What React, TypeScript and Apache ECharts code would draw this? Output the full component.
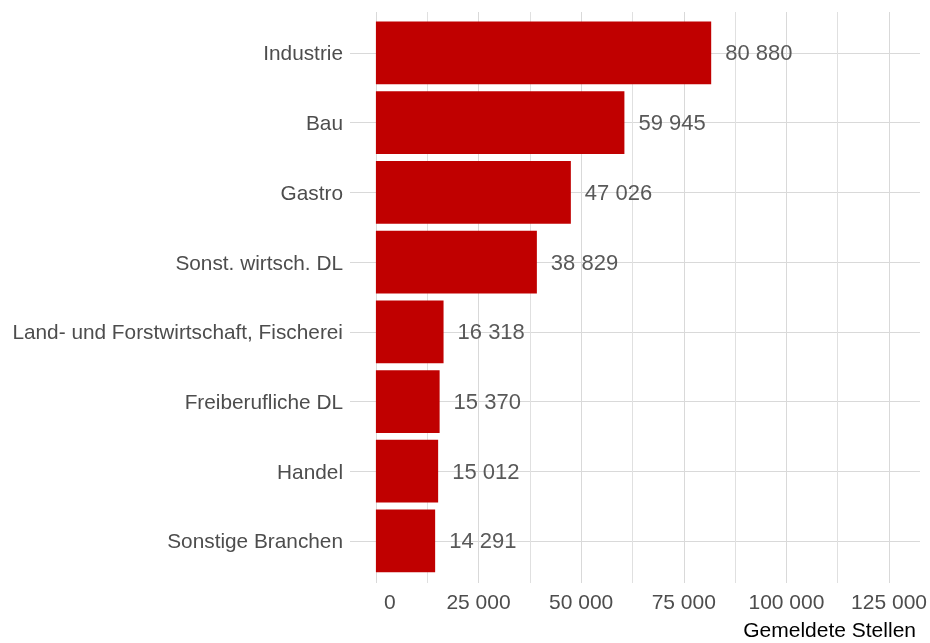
import React, { useEffect, useRef } from "react";
import * as echarts from "echarts";

const categories = [
  "Industrie",
  "Bau",
  "Gastro",
  "Sonst. wirtsch. DL",
  "Land- und Forstwirtschaft, Fischerei",
  "Freiberufliche DL",
  "Handel",
  "Sonstige Branchen",
];
const values = [80880, 59945, 47026, 38829, 16318, 15370, 15012, 14291];
const tickValues = [0, 25000, 50000, 75000, 100000, 125000];
const axisTitle = "Gemeldete Stellen";

const fmt = (v: number) => String(Math.round(v)).replace(/\B(?=(\d{3})+(?!\d))/g, " ");

const FONT = "'Liberation Sans', Arial, sans-serif";

export default function App() {
  const ref = useRef<HTMLDivElement>(null);
  useEffect(() => {
    if (!ref.current) return;
    const chart = echarts.init(ref.current, undefined, { renderer: "svg" });
    const xMin = -6250;
    const xMax = 131250;
    const plotLeft = 350;
    const plotRight = 920;
    const plotW = plotRight - plotLeft;
    const px = (v: number) => plotLeft + ((v - xMin) / (xMax - xMin)) * plotW;
    const g2Left = px(tickValues[0]);
    const g2Right = px(tickValues[tickValues.length - 1]);
    const g1Top = 18.1;
    const g1H = 557.7;
    chart.setOption({
      animation: false,
      grid: [
        { left: plotLeft, top: g1Top, width: plotW, height: g1H, containLabel: false },
        { left: g2Left, top: 12, width: g2Right - g2Left, height: 571, containLabel: false },
      ],
      xAxis: [
        {
          gridIndex: 0,
          type: "value",
          min: xMin,
          max: xMax,
          axisLine: { show: false },
          axisTick: { show: false },
          axisLabel: { show: false },
          splitLine: { show: false },
          name: axisTitle,
          nameLocation: "end",
          nameGap: 0,
          nameTextStyle: {
            fontSize: 21,
            fontFamily: FONT,
            color: "#000000",
            align: "right",
            verticalAlign: "top",
            padding: [43, 4, 0, 0],
          },
        },
        {
          gridIndex: 1,
          type: "value",
          min: 0,
          max: 125000,
          interval: 25000,
          axisLine: { show: false },
          axisTick: { show: false },
          axisLabel: {
            margin: 8,
            fontSize: 21,
            fontFamily: FONT,
            color: "#4D4D4D",
            formatter: (v: number) => (v === 0 ? "{z|0}" : fmt(v)),
            rich: {
              z: { fontSize: 21, fontFamily: FONT, color: "#4D4D4D", padding: [0, 0, 0, 28] },
            },
          },
          splitLine: { show: true, lineStyle: { color: "#D9D9D9", width: 1 } },
          minorTick: { show: false, splitNumber: 2 },
          minorSplitLine: { show: true, lineStyle: { color: "#E0E0E0", width: 1 } },
        },
      ],
      yAxis: [
        {
          gridIndex: 0,
          type: "category",
          data: categories,
          inverse: true,
          axisLine: { show: false },
          axisTick: { show: false },
          axisLabel: {
            margin: 7,
            fontSize: 20.8,
            fontFamily: FONT,
            color: "#4D4D4D",
            padding: [4, 0, 0, 0],
          },
          splitLine: { show: true, alignWithLabel: true, lineStyle: { color: "#D9D9D9", width: 1 } },
        },
        {
          gridIndex: 1,
          type: "value",
          show: false,
          splitLine: { show: false },
        },
      ],
      series: [
        {
          type: "bar",
          xAxisIndex: 0,
          yAxisIndex: 0,
          data: values,
          barWidth: "90%",
          itemStyle: { color: "#C00000" },
          label: {
            show: true,
            position: "right",
            distance: 14,
            fontSize: 22,
            fontFamily: FONT,
            color: "#595959",
            padding: [4, 0, 0, 0],
            formatter: (p: any) => fmt(p.value),
          },
        },
      ],
    });
    return () => chart.dispose();
  }, []);
  return (
    <div
      ref={ref}
      style={{ position: "fixed", left: 0, top: 0, width: 930, height: 643 }}
    />
  );
}
